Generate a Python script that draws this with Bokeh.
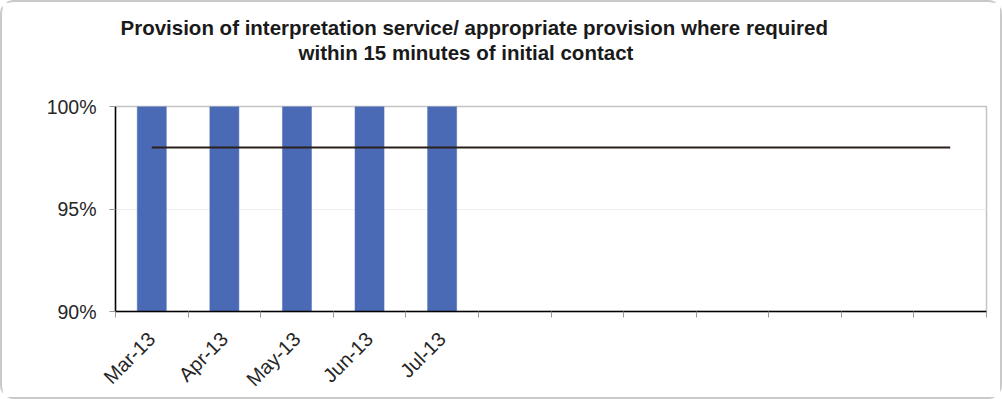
import math
from bokeh.plotting import figure
from bokeh.models import FixedTicker, NumeralTickFormatter, Range1d, Title
from bokeh.embed import file_html
from bokeh.resources import INLINE

# Monthly categories (only the first five have been reported so far)
months = ["Mar-13", "Apr-13", "May-13", "Jun-13", "Jul-13",
          "", "", "", "", "", "", ""]
# Share of contacts where interpretation was provided within 15 minutes
achieved = [1.00, 1.00, 1.00, 1.00, 1.00]
# Target level across the whole year
target = [0.98] * 12

y_ticks = [0.90, 0.95, 1.00]

title_lines = ["Provision of interpretation service/ appropriate provision where required",
               "within 15 minutes of initial contact"]

n = len(months)
centers = [i + 0.5 for i in range(n)]

p = figure(width=1002, height=399, output_backend="svg", toolbar_location=None,
           x_range=Range1d(0, n), y_range=Range1d(0.90, 1.00),
           min_border_left=113, min_border_right=18,
           min_border_top=104, min_border_bottom=88)

p.styles = {"border": "2px solid #c9c9c9", "border-radius": "14px",
            "box-sizing": "border-box"}

# Bars for the reported months
p.vbar(x=centers[:len(achieved)], top=achieved, bottom=0.90, width=0.4,
       fill_color="#4a6ab5", line_color="#4a6ab5", line_width=0.5)

# Target line spanning every category centre
p.line(x=centers, y=target, line_color="#2a1f1a", line_width=2)

# Frame
p.outline_line_color = "#c4c4c4"
p.outline_line_width = 1.5
p.background_fill_color = "white"
p.border_fill_color = "white"

# Y axis
p.yaxis.ticker = FixedTicker(ticks=y_ticks)
p.yaxis.formatter = NumeralTickFormatter(format="0%")
p.yaxis.axis_line_color = "black"
p.yaxis.axis_line_width = 1.5
p.yaxis.major_tick_line_color = "#9a9a9a"
p.yaxis.major_tick_out = 6
p.yaxis.major_tick_in = 0
p.yaxis.minor_tick_line_color = None
p.yaxis.major_label_text_font = "Liberation Sans"
p.yaxis.major_label_text_font_size = "19.5px"
p.yaxis.major_label_text_color = "#262626"
p.yaxis.major_label_standoff = 13

# X axis: labels at category centres, tick marks at category boundaries
labelled = [c for c, m in zip(centers, months) if m]
p.xaxis.ticker = FixedTicker(ticks=labelled, minor_ticks=list(range(n + 1)))
p.xaxis.major_label_overrides = {c: m for c, m in zip(centers, months) if m}
p.xaxis.major_label_orientation = math.pi / 4
p.xaxis.axis_line_color = "black"
p.xaxis.axis_line_width = 1.5
p.xaxis.major_tick_line_color = None
p.xaxis.minor_tick_line_color = "#9a9a9a"
p.xaxis.minor_tick_out = 6
p.xaxis.minor_tick_in = 0
p.xaxis.major_label_text_font = "Liberation Sans"
p.xaxis.major_label_text_font_size = "20px"
p.xaxis.major_label_text_color = "#262626"
p.xaxis.major_label_standoff = 18

# Grid
p.xgrid.grid_line_color = None
p.ygrid.grid_line_color = "#efefef"
p.ygrid.grid_line_width = 1

# Two-line title. Above panels stack outward from the frame, so a blank
# spacer goes first, then the second line, then the first line.
title_style = dict(align="left", text_font="Liberation Sans", text_font_size="20.5px",
                   text_font_style="bold", text_color="#1a1a1a")
p.add_layout(Title(text=" ", standoff=18, **title_style), "above")
p.add_layout(Title(text=title_lines[1], offset=183, standoff=0, **title_style), "above")
p.add_layout(Title(text=title_lines[0], offset=5, standoff=0, **title_style), "above")

open("out.html", "w").write(file_html(p, INLINE))
